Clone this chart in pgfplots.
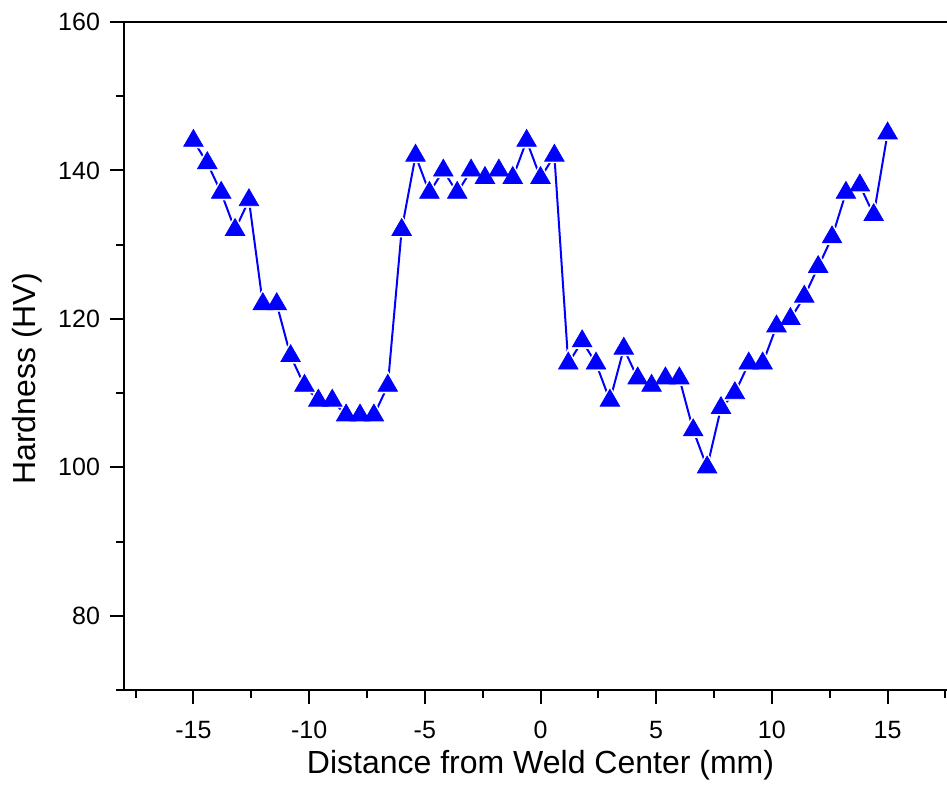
\documentclass[border=0pt]{standalone}
\usepackage{fontspec}
\setmainfont{Liberation Sans}
\usepackage{pgfplots}
\pgfplotsset{compat=1.18}

\pgfplotstableread{
x y
-15.0 144
-14.4 141
-13.8 137
-13.2 132
-12.6 136
-12.0 122
-11.4 122
-10.8 115
-10.2 111
-9.6 109
-9.0 109
-8.4 107
-7.8 107
-7.2 107
-6.6 111
-6.0 132
-5.4 142
-4.8 137
-4.2 140
-3.6 137
-3.0 140
-2.4 139
-1.8 140
-1.2 139
-0.6 144
0.0 139
0.6 142
1.2 114
1.8 117
2.4 114
3.0 109
3.6 116
4.2 112
4.8 111
5.4 112
6.0 112
6.6 105
7.2 100
7.8 108
8.4 110
9.0 114
9.6 114
10.2 119
10.8 120
11.4 123
12.0 127
12.6 131
13.2 137
13.8 138
14.4 134
15.0 145
}\hardness

\begin{document}
\begin{tikzpicture}
\begin{axis}[
 name=ax,at={(0,0)},anchor=south west,
 scale only axis,width=416.5pt,height=334pt,
 xmin=-18,xmax=18,ymin=70,ymax=160,
 axis x line*=bottom,axis y line*=left,
 axis line style={line width=1pt,-},
 xtick={-15,-10,...,15},minor xtick={-17.5,-12.5,...,17.5},
 ytick={80,100,...,160},minor ytick={70,90,...,150},
 tick align=outside,
 major tick length=7pt,minor tick length=4pt,
 every tick/.style={black,line width=1pt},
 tick label style={font=\fontsize{12.5}{15}\selectfont},
 xticklabel shift=5pt,yticklabel shift=1.5pt,
 /pgf/number format/assume math mode=true,
 xlabel={Distance from Weld Center (mm)},
 ylabel={Hardness (HV)},
 xlabel style={font=\fontsize{16}{19}\selectfont,
  at={(axis description cs:0.5,-0.1243)},anchor=base},
 ylabel style={font=\fontsize{16}{19}\selectfont,
  at={(axis description cs:-0.1068,0.4656)},anchor=base},
 clip=false,
]
\addplot[blue,line width=1pt] table[x=x,y=y] {\hardness};
\addplot[white,only marks,mark=triangle*,mark size=7.2pt] table[x=x,y=y] {\hardness};
\addplot[blue,only marks,mark=triangle*,mark size=5.6pt] table[x=x,y=y] {\hardness};
\end{axis}
\draw[line width=1pt] ([xshift=-7pt]ax.north west) -- (ax.north east);
\pgfresetboundingbox
\path (-62pt,-53.5pt) rectangle (411.5pt,345pt);
\end{tikzpicture}
\end{document}
